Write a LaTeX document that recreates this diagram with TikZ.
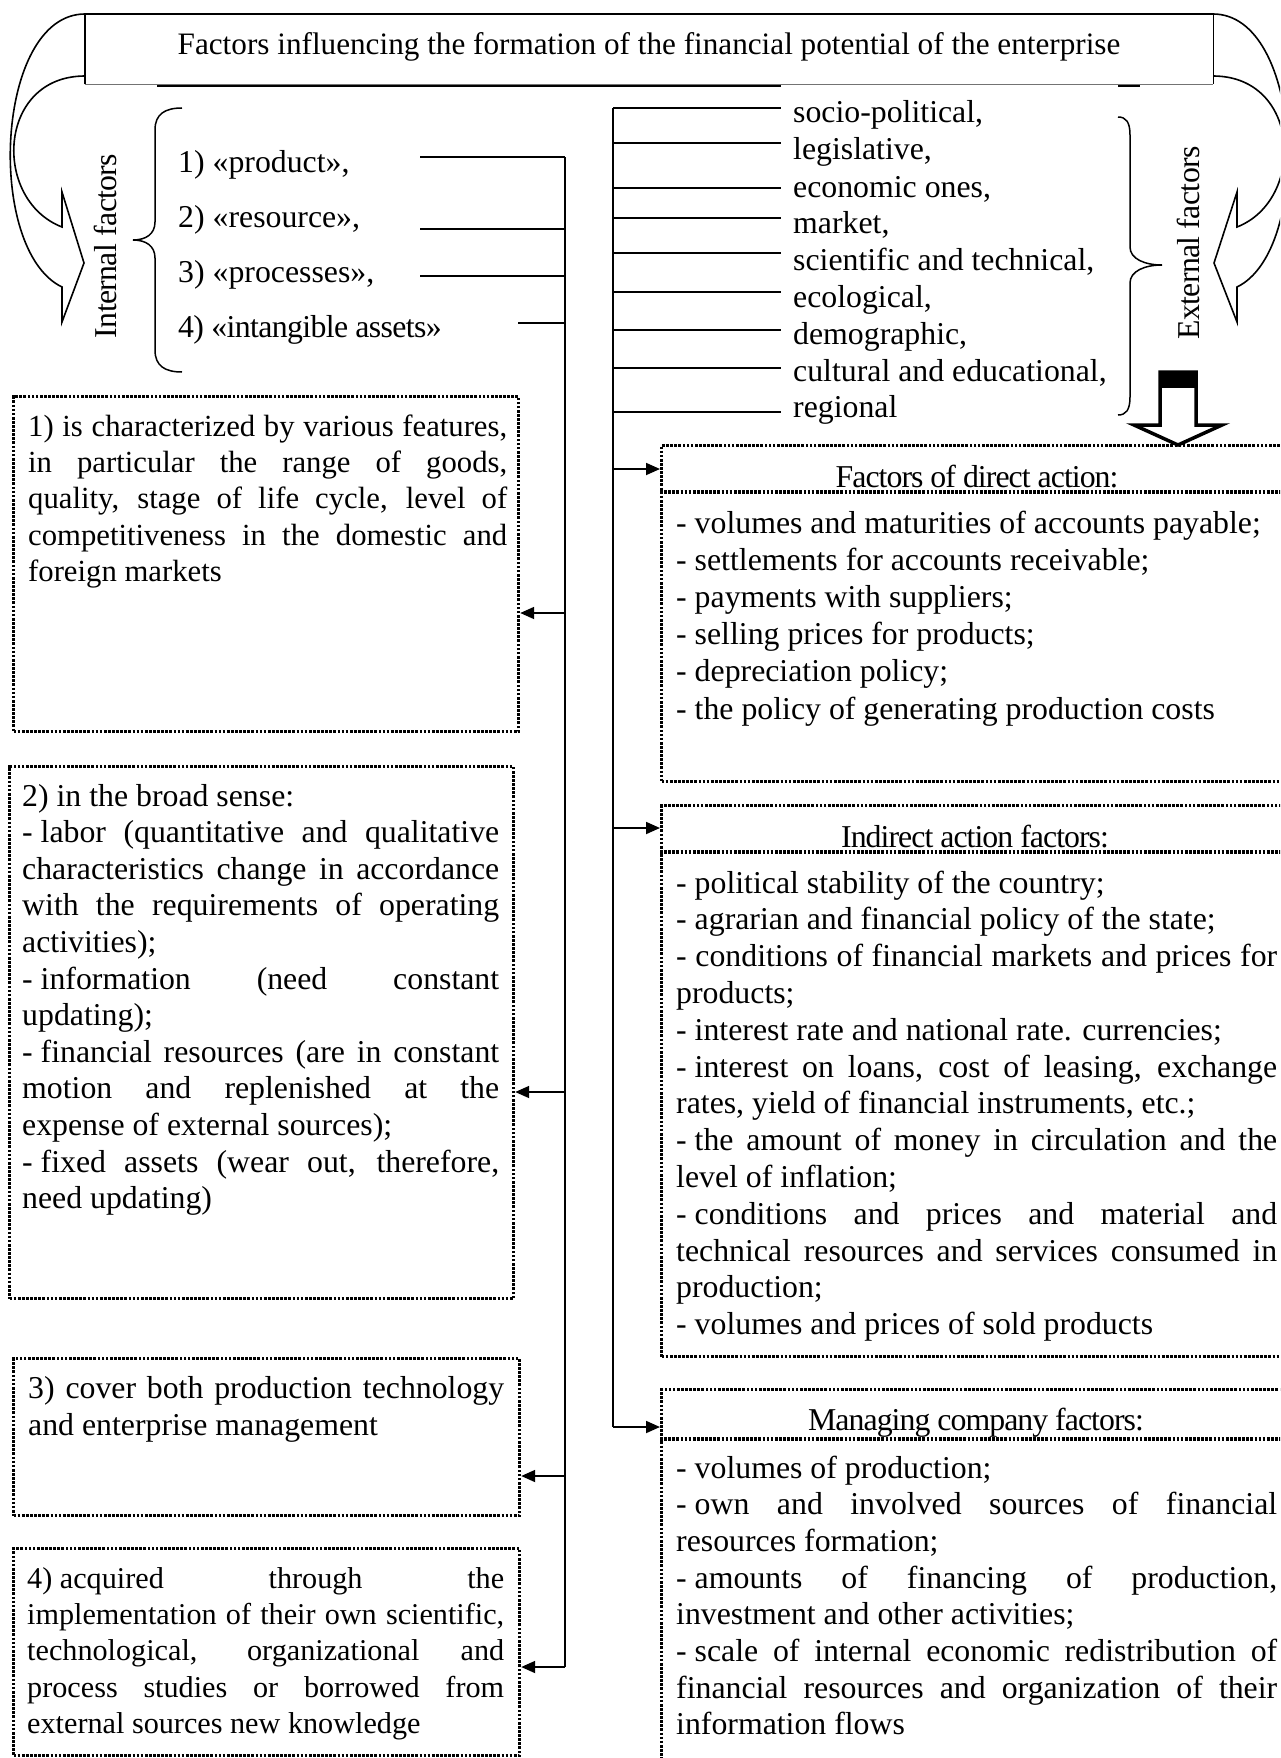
\documentclass[tikz,border=0pt]{standalone}
\usepackage{fontspec}
\setmainfont{Liberation Serif}
\newfontfamily\hdfont[LetterSpace=-3]{Liberation Serif}
\newfontfamily\cfont[LetterSpace=-2]{Liberation Serif}
\usetikzlibrary{arrows.meta}
\newcommand\jl[1]{\makebox[\linewidth][s]{#1}\\}
\newcommand\fsp{\hspace{0.25em}}
\begin{document}
\begin{tikzpicture}[x=1pt,y=-1pt,
  conn/.style={line width=1.8pt},
  arr/.style={line width=1.8pt,-{Triangle[length=14pt,width=12pt]}},
  dotbox/.style={draw, line width=3.2pt, dash pattern=on 2.7pt off 1.4pt, inner sep=0pt, anchor=north west},
  dotline/.style={line width=3.2pt, dash pattern=on 2.7pt off 1.4pt},
  txt/.style={inner sep=0pt, anchor=base west, font=\fontsize{31.8}{36}\selectfont},
  hd/.style={inner sep=0pt, anchor=base, font=\hdfont\fontsize{31.8}{36}\selectfont},
  big/.style={line width=1.6pt}
]
\useasboundingbox (0,0) rectangle (1280,1758);
\clip (0,0) rectangle (1280,1758);
\fill[white] (0,0) rectangle (1280,1758);

% ---------- title ----------
\node[minimum width=1128pt, minimum height=70pt, inner sep=0pt, anchor=north west] (title) at (85,14) {};
\draw[line width=1.8pt] (title.south west) -- (title.north west) -- (title.north east) -- (title.south east);
\draw[line width=1pt, black!55] (title.south west) -- (title.south east);
\node[txt, anchor=base, font=\fontsize{31.2}{36}\selectfont] (titletext) at (649,55) {Factors influencing the formation of the financial potential of the enterprise};
\draw[line width=1.6pt] (157,86) -- (781,86);
\draw[line width=1.6pt] (1118,86) -- (1140,86);

% ---------- curved block arrows ----------
\draw[big, line join=miter] (85,14) .. controls (-5,14) and (-15,250) .. (62,287) -- (62,322) -- (84,263) -- (62,192) -- (62,227) .. controls (-8,200) and (-3,76) .. (85,76);
\draw[big, line join=miter] (1213,14) .. controls (1303,14) and (1313,250) .. (1237,287) -- (1237,322) -- (1214,263) -- (1237,192) -- (1237,227) .. controls (1306,200) and (1301,76) .. (1213,76);

% ---------- braces ----------
\draw[line width=1.5pt] (182,108) .. controls (165,108) and (155,114) .. (155,130) -- (155,222) .. controls (155,234) and (146,240) .. (133,240) .. controls (146,240) and (155,246) .. (155,258) -- (155,350) .. controls (155,366) and (165,372) .. (182,372);
\draw[line width=1.5pt] (1118,117) .. controls (1126,117) and (1130,122) .. (1130,135) -- (1130,247) .. controls (1130,259) and (1145,265) .. (1162,265) .. controls (1145,265) and (1130,271) .. (1130,283) -- (1130,397) .. controls (1130,410) and (1126,415) .. (1118,415);

\node[txt, anchor=base, rotate=90, font=\cfont\fontsize{31.8}{36}\selectfont] (intf) at (116,246) {Internal factors};
\node[txt, anchor=base, rotate=90, font=\cfont\fontsize{31.8}{36}\selectfont] (extf) at (1199,243) {External factors};

% ---------- block arrow down ----------
\fill (1160,372) rectangle (1196,388);
\draw[line width=3.5pt, line join=miter] (1160,372) -- (1196,372) -- (1196,425) -- (1222,425) -- (1178,445) -- (1134,425) -- (1160,425) -- cycle;

% ---------- internal items ----------
\node[txt] (i1) at (178,172) {1) «product»,};
\node[txt] (i2) at (178,227) {2) «resource»,};
\node[txt] (i3) at (178,282) {3) «processes»,};
\node[txt, font=\cfont\fontsize{31.8}{36}\selectfont] (i4) at (178,337) {4) «intangible assets»};

% ---------- external items ----------
\node[txt] (e1) at (793,123) {socio-political,};
\node[txt] (e2) at (793,160) {legislative,};
\node[txt] (e3) at (793,197) {economic ones,};
\node[txt] (e4) at (793,233) {market,};
\node[txt] (e5) at (793,270) {scientific and technical,};
\node[txt] (e6) at (793,307) {ecological,};
\node[txt] (e7) at (793,344) {demographic,};
\node[txt] (e8) at (793,381) {cultural and educational,};
\node[txt] (e9) at (793,417) {regional};

% ---------- left boxes ----------
\node[dotbox, minimum width=505pt, minimum height=335pt] (b1) at (12,395) {};
\node[dotbox, minimum width=504pt, minimum height=532pt] (b2) at (8,765) {};
\node[dotbox, minimum width=506pt, minimum height=157pt] (b3) at (12,1357) {};
\node[dotbox, minimum width=506pt, minimum height=207pt] (b4) at (12,1547) {};

\node[inner sep=0pt, anchor=base west] (t1) at (28,436) {\parbox[t]{479pt}{\fontsize{30.7}{36.4}\selectfont
\jl{1) is characterized by various features,}
\jl{in particular the range of goods,}
\jl{quality, stage of life cycle, level of}
\jl{competitiveness in the domestic and}
foreign markets}};

\node[inner sep=0pt, anchor=base west] (t2) at (22,806) {\parbox[t]{477pt}{\fontsize{31.8}{36.6}\selectfont
2) in the broad sense:\\
\jl{-\fsp labor (quantitative and qualitative}
\jl{characteristics change in accordance}
\jl{with the requirements of operating}
activities);\\
\jl{-\fsp information (need constant}
updating);\\
\jl{-\fsp financial resources (are in constant}
\jl{motion and replenished at the}
expense of external sources);\\
\jl{-\fsp fixed assets (wear out, therefore,}
need updating)}};

\node[inner sep=0pt, anchor=base west] (t3) at (28,1398) {\parbox[t]{476pt}{\fontsize{31.8}{37.5}\selectfont
\jl{3) cover both production technology}
and enterprise management}};

\node[inner sep=0pt, anchor=base west] (t4) at (27,1588) {\parbox[t]{477pt}{\fontsize{30.2}{36.4}\selectfont
\jl{4)\fsp acquired through the}
\jl{implementation of their own scientific,}
\jl{technological, organizational and}
\jl{process studies or borrowed from}
external sources new knowledge}};

% ---------- right boxes ----------
\node[dotbox, minimum width=631pt, minimum height=336pt] (bA) at (660,444) {};
\node[dotbox, minimum width=631pt, minimum height=551pt] (bB) at (660,804) {};
\node[dotbox, minimum width=631pt, minimum height=400pt] (bC) at (660,1388) {};

\coordinate (hA) at (660,492);
\coordinate (hB) at (660,852);
\coordinate (hC) at (660,1439);
\draw[dotline] (hA) -- (hA -| bA.east);
\draw[dotline] (hB) -- (hB -| bB.east);
\draw[dotline] (hC) -- (hC -| bC.east);

\node[hd] (hdA) at (977,487) {Factors of direct action:};
\node[hd] (hdB) at (975,847) {Indirect action factors:};
\node[hd] (hdC) at (976,1430) {Managing company factors:};

\node[inner sep=0pt, anchor=base west] (tA) at (676,533) {\parbox[t]{601pt}{\fontsize{31.8}{37.2}\selectfont
- volumes and maturities of accounts payable;\\
- settlements for accounts receivable;\\
- payments with suppliers;\\
- selling prices for products;\\
- depreciation policy;\\
- the policy of generating production costs}};

\node[inner sep=0pt, anchor=base west] (tB) at (676,893) {\parbox[t]{601pt}{\fontsize{31.8}{36.8}\selectfont
- political stability of the country;\\
- agrarian and financial policy of the state;\\
\jl{- conditions of financial markets and prices for}
products;\\
- interest rate and national rate. currencies;\\
\jl{-\fsp interest on loans, cost of leasing, exchange}
rates, yield of financial instruments, etc.;\\
\jl{-\fsp the amount of money in circulation and the}
level of inflation;\\
\jl{-\fsp conditions and prices and material and}
\jl{technical resources and services consumed in}
production;\\
- volumes and prices of sold products}};

\node[inner sep=0pt, anchor=base west] (tC) at (676,1478) {\parbox[t]{601pt}{\fontsize{31.8}{36.7}\selectfont
- volumes of production;\\
\jl{-\fsp own and involved sources of financial}
resources formation;\\
\jl{-\fsp amounts of financing of production,}
investment and other activities;\\
\jl{-\fsp scale of internal economic redistribution of}
\jl{financial resources and organization of their}
information flows}};

% ---------- left connectors ----------
\coordinate (p1) at (420,157); \coordinate (q1) at (565,157);
\coordinate (p2) at (420,229); \coordinate (q2) at (565,229);
\coordinate (p3) at (420,276); \coordinate (q3) at (565,276);
\coordinate (p4) at (518,323); \coordinate (q4) at (565,323);
\coordinate (r1) at (565,613);
\coordinate (r2) at (565,1092);
\coordinate (r3) at (565,1476);
\coordinate (r4) at (565,1667);
\draw[conn] (p1) -- (q1);
\draw[conn] (p2) -- (q2);
\draw[conn] (p3) -- (q3);
\draw[conn] (p4) -- (q4);
\draw[conn] (q1) -- (r4);
\draw[arr] (r1) -- (r1 -| b1.east);
\draw[arr] (r2) -- (r2 -| b2.east);
\draw[arr] (r3) -- (r3 -| b3.east);
\draw[arr] (r4) -- (r4 -| b4.east);

% ---------- right connectors ----------
\coordinate (s1) at (613,108); \coordinate (k1) at (781,108);
\coordinate (s2) at (613,143); \coordinate (k2) at (781,143);
\coordinate (s3) at (613,188); \coordinate (k3) at (781,188);
\coordinate (s4) at (613,218); \coordinate (k4) at (781,218);
\coordinate (s5) at (613,253); \coordinate (k5) at (781,253);
\coordinate (s6) at (613,292); \coordinate (k6) at (781,292);
\coordinate (s7) at (613,330); \coordinate (k7) at (781,330);
\coordinate (s8) at (613,368); \coordinate (k8) at (781,368);
\coordinate (s9) at (613,412); \coordinate (k9) at (781,412);
\foreach \n in {1,...,9} {\draw[conn] (s\n) -- (k\n);}
\coordinate (u1) at (613,469);
\coordinate (u2) at (613,828);
\coordinate (u3) at (613,1427);
\draw[conn] (s1) -- (u3);
\draw[arr] (u1) -- (u1 -| bA.west);
\draw[arr] (u2) -- (u2 -| bB.west);
\draw[arr] (u3) -- (u3 -| bC.west);
\end{tikzpicture}
\end{document}
